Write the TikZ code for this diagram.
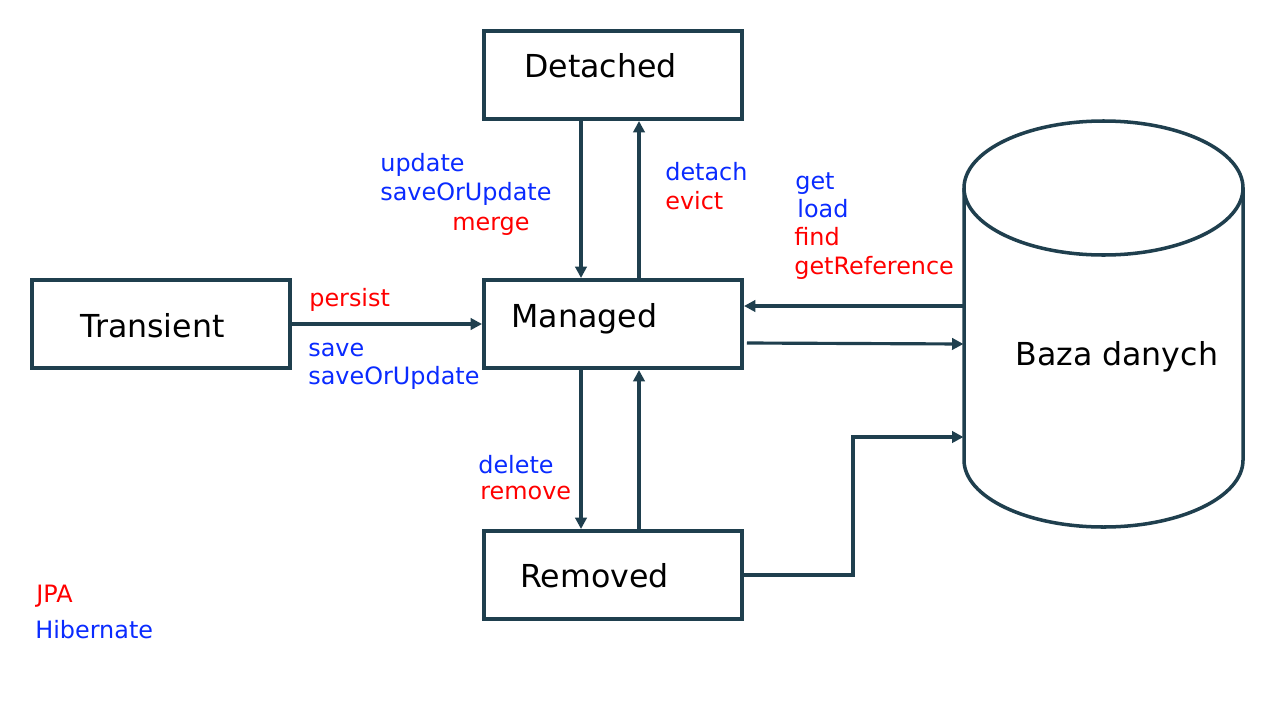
\documentclass[tikz,border=0pt]{standalone}
\usepackage{fontspec}
\setmainfont{DejaVu Sans}
\usetikzlibrary{arrows.meta}
\definecolor{edgecol}{HTML}{1F3F4E}
\definecolor{hibcol}{HTML}{0A2BFF}
\definecolor{jpacol}{HTML}{FF0000}

\begin{document}
\begin{tikzpicture}[x=0.02cm,y=-0.02cm]
		\tikzset{state/.style={draw=edgecol,line width=2.3pt,minimum width=5.16cm,minimum height=1.76cm,inner sep=0pt}};
		\tikzset{flow/.style={draw=edgecol,line width=1.8pt,-{Triangle[length=6.5pt,width=6.5pt]}}};
		\tikzset{title/.style={font=\fontsize{18}{22}\selectfont,anchor=base west,inner sep=0pt}};
		\tikzset{hib/.style={hibcol,font=\fontsize{13.6}{16}\selectfont,anchor=base west,inner sep=0pt}};
		\tikzset{jpa/.style={jpacol,font=\fontsize{13.6}{16}\selectfont,anchor=base west,inner sep=0pt}};
		\useasboundingbox[fill=white] (0,0) rectangle (1280,720);
		
		\node[state] (detached) at (613,75) {};
		\node[state] (managed) at (613,324) {};
		\node[state] (transient) at (161,324) {};
		\node[state] (removed) at (613,575) {};
		\node[title] (detachedtxt) at (524,77) {Detached};
		\node[title] (managedtxt) at (511,327) {Managed};
		\node[title] (transienttxt) at (80,337) {Transient};
		\node[title] (removedtxt) at (520,587) {Removed};
		
		% baza danych
		\draw[edgecol,line width=2pt] (1103.5,188) ellipse[x radius=139.5,y radius=67];
		\draw[edgecol,line width=2pt] (964,188) -- (964,460) arc[start angle=180,end angle=0,x radius=139.5,y radius=67] -- (1243,188);
		\node[minimum width=5.59cm,minimum height=8.12cm,inner sep=0pt] (db) at (1103.5,324) {};
		\node[title] (dbtxt) at (1015,365) {Baza danych};
		
		\draw[flow] (detached.south -| 581,0) -- (managed.north -| 581,0);
		\draw[flow] (managed.north -| 639,0) -- (detached.south -| 639,0);
		\draw[flow] (transient.east) -- (managed.west);
		\draw[flow] (managed.south -| 581,0) -- (removed.north -| 581,0);
		\draw[flow] (removed.north -| 639,0) -- (managed.south -| 639,0);
		\draw[flow] (db.west |- 0,306) -- (managed.east |- 0,306);
		\draw[flow] ([xshift=1.7pt]managed.east |- 0,343) -- (db.west |- 0,344);
		\draw[flow] (removed.east) -| (853,437) -- (db.west |- 0,437);
		
		\node[hib] (update) at (380,171) {update};
		\node[hib] (saveorupdateA) at (380,200) {saveOrUpdate};
		\node[jpa] (merge) at (452,230) {merge};
		\node[hib] (detach) at (665,180) {detach};
		\node[jpa] (evict) at (665,209) {evict};
		\node[hib] (get) at (795,189) {get};
		\node[hib] (load) at (797,217) {load};
		\node[jpa] (find) at (794,245) {find};
		\node[jpa] (getref) at (794,274) {getReference};
		\node[jpa] (persist) at (309,306) {persist};
		\node[hib] (save) at (308,356) {save};
		\node[hib] (saveorupdateB) at (308,384) {saveOrUpdate};
		\node[hib] (delete) at (478,473) {delete};
		\node[jpa] (remove) at (480,499) {remove};
		\node[jpa] (jpalbl) at (36,602) {JPA};
		\node[hib] (hiblbl) at (35,638) {Hibernate};
	\end{tikzpicture}
\end{document}
